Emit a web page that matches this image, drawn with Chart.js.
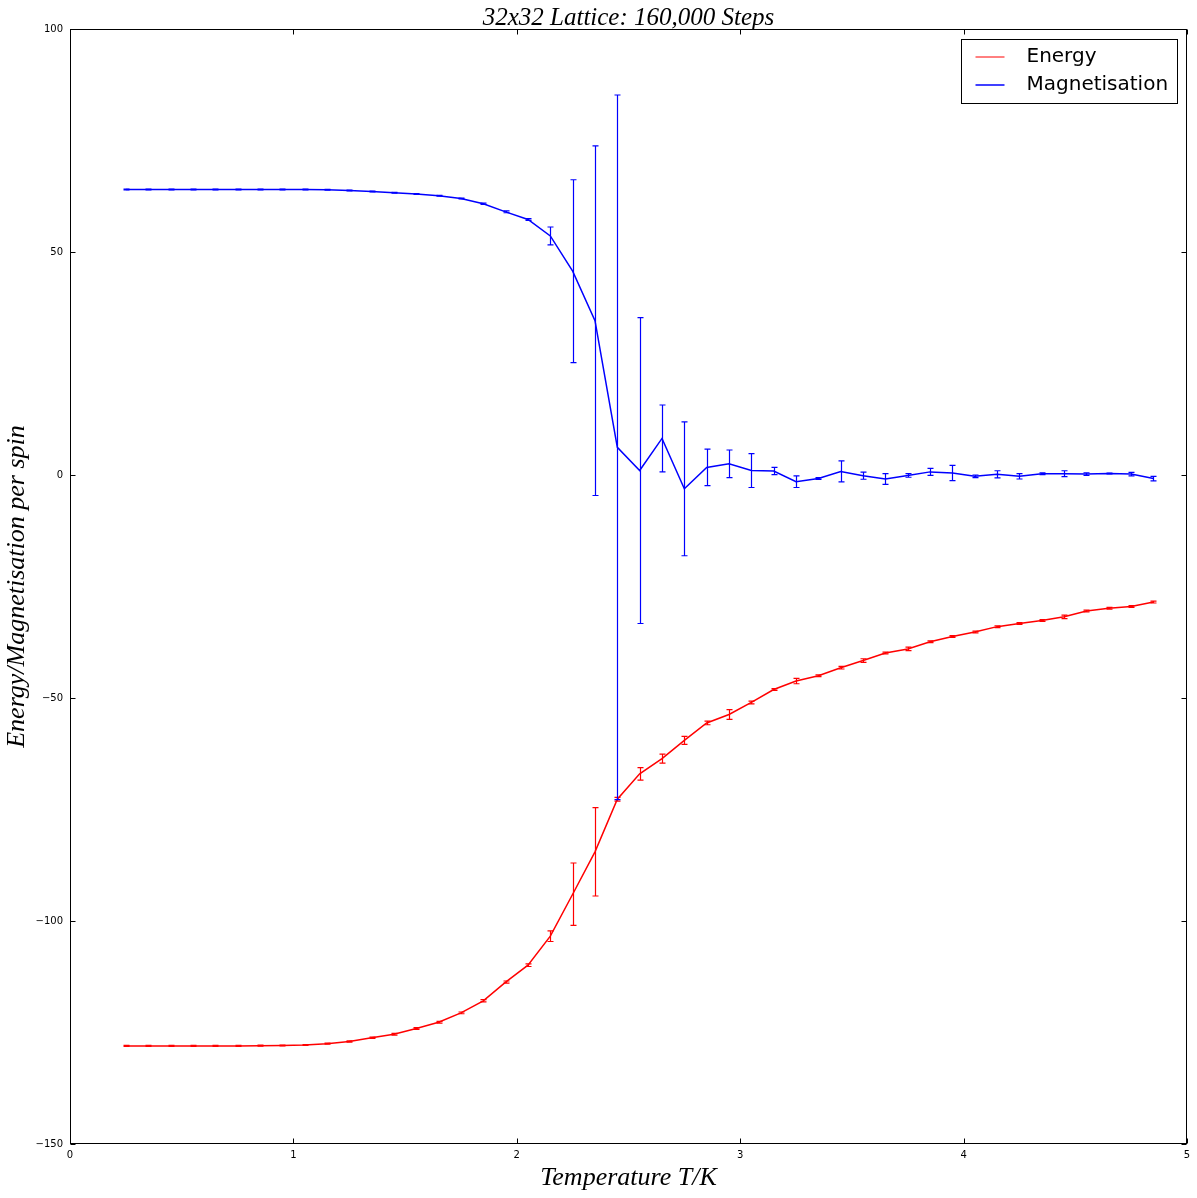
<!DOCTYPE html>
<html><head><meta charset="utf-8">
<script src="https://cdn.jsdelivr.net/npm/chart.js@4/dist/chart.umd.min.js"></script>
<style>html,body{margin:0;padding:0;background:#fff;overflow:hidden}#wrap{width:1197px;height:1198px}canvas{display:block}</style>
</head><body><div id="wrap"><canvas id="c" width="1197" height="1198"></canvas></div>
<script>
const temperatures = [0.25,0.35,0.45,0.55,0.65,0.75,0.85,0.95,1.05,1.15,1.25,1.35,1.45,1.55,1.65,1.75,1.85,1.95,2.05,2.15,2.25,2.35,2.45,2.55,2.65,2.75,2.85,2.95,3.05,3.15,3.25,3.35,3.45,3.55,3.65,3.75,3.85,3.95,4.05,4.15,4.25,4.35,4.45,4.55,4.65,4.75,4.85];
const energy = [-128.0,-128.0,-128.0,-128.0,-128.0,-128.0,-127.95,-127.9,-127.8,-127.5,-127.0,-126.2,-125.4,-124.1,-122.7,-120.6,-117.9,-113.7,-109.9,-103.4,-94.0,-84.5,-72.7,-67.0,-63.6,-59.5,-55.6,-53.7,-51.0,-48.1,-46.2,-45.0,-43.2,-41.6,-39.9,-39.0,-37.4,-36.2,-35.2,-34.0,-33.3,-32.6,-31.8,-30.5,-29.9,-29.5,-28.5];
const energyErr = [0.1,0.1,0.1,0.1,0.1,0.1,0.1,0.1,0.1,0.1,0.15,0.15,0.2,0.2,0.2,0.2,0.25,0.25,0.3,1.2,7.0,9.9,0.4,1.4,1.0,0.9,0.4,1.1,0.3,0.2,0.6,0.2,0.3,0.4,0.2,0.4,0.2,0.2,0.2,0.2,0.2,0.2,0.4,0.2,0.2,0.2,0.2];
const magnetisation = [64.0,64.0,64.0,64.0,64.0,64.0,64.0,64.0,64.0,63.95,63.8,63.55,63.3,63.0,62.6,62.0,60.8,59.0,57.3,53.6,45.7,34.6,6.2,1.0,8.2,-3.1,1.7,2.5,1.0,0.9,-1.5,-0.8,0.8,-0.15,-0.9,-0.1,0.7,0.45,-0.3,0.15,-0.3,0.3,0.3,0.2,0.35,0.2,-0.8];
const magnetisationErr = [0.1,0.1,0.1,0.1,0.1,0.1,0.1,0.1,0.1,0.1,0.1,0.1,0.1,0.1,0.1,0.1,0.15,0.2,0.2,2.0,20.5,39.2,79.0,34.3,7.5,15.0,4.1,3.1,3.8,0.8,1.3,0.2,2.35,0.8,1.2,0.4,0.8,1.7,0.3,0.8,0.6,0.2,0.65,0.3,0.1,0.4,0.5];
const seriesLabels = ['Energy','Magnetisation'];
const seriesColors = ['#ff0000','#0000ff'];
const xTickValues = [0,1,2,3,4,5];
const yTickValues = [-150,-100,-50,0,50,100];
const titleText = '32x32 Lattice: 160,000 Steps';
const xTitle = 'Temperature T/K';
const yTitle = 'Energy/Magnetisation per spin';

const serifItalic = "'Liberation Serif', 'DejaVu Serif', serif";
const tickFont = {family:"'DejaVu Sans', sans-serif", size:10};

function pts(ys){ return temperatures.map((t,i)=>({x:t,y:ys[i]})); }

const errorBarPlugin = {
  id:'errorBars',
  afterDatasetsDraw(chart){
    const ctx = chart.ctx, xs = chart.scales.x, ys = chart.scales.y, a = chart.chartArea;
    ctx.save();
    ctx.beginPath(); ctx.rect(a.left, a.top, a.right-a.left, a.bottom-a.top); ctx.clip();
    chart.data.datasets.forEach(ds=>{
      const err = ds.errorValues; if(!err) return;
      ctx.strokeStyle = ds.borderColor; ctx.lineWidth = 1.2;
      ds.data.forEach((p,i)=>{
        const px = Math.round(xs.getPixelForValue(p.x))+0.5;
        const t = ys.getPixelForValue(p.y+err[i]);
        const b = ys.getPixelForValue(p.y-err[i]);
        ctx.beginPath();
        ctx.moveTo(px,t); ctx.lineTo(px,b);
        ctx.moveTo(px-3,t); ctx.lineTo(px+3,t);
        ctx.moveTo(px-3,b); ctx.lineTo(px+3,b);
        ctx.stroke();
      });
    });
    ctx.restore();
  }
};

const framePlugin = {
  id:'frame',
  afterDraw(chart){
    const ctx = chart.ctx, a = chart.chartArea, xs = chart.scales.x, ys = chart.scales.y;
    ctx.save();
    ctx.strokeStyle = '#000'; ctx.lineWidth = 1;
    const L = Math.round(a.left)+0.5, R = Math.round(a.right)-0.5, T = Math.round(a.top)+0.5, B = Math.round(a.bottom)-0.5;
    ctx.strokeRect(L, T, R-L, B-T);
    ctx.beginPath();
    const tl = 5;
    xTickValues.forEach(v=>{
      const px = Math.round(xs.getPixelForValue(v))+0.5;
      ctx.moveTo(px,B); ctx.lineTo(px,B-tl);
      ctx.moveTo(px,T); ctx.lineTo(px,T+tl);
    });
    yTickValues.forEach(v=>{
      const py = Math.round(ys.getPixelForValue(v))+0.5;
      ctx.moveTo(L,py); ctx.lineTo(L+tl,py);
      ctx.moveTo(R,py); ctx.lineTo(R-tl,py);
    });
    ctx.stroke();
    // legend
    ctx.font = "20px 'DejaVu Sans', sans-serif";
    const ds = chart.data.datasets;
    let maxW = 0; ds.forEach(d=>{ maxW = Math.max(maxW, ctx.measureText(d.label).width); });
    const padL = 14, lineLen = 29, gap = 22, padR = 9;
    const w = Math.round(padL + lineLen + gap + maxW + padR), h = 64;
    const x0 = Math.round(a.right - 10 - w) + 0.5, y0 = Math.round(a.top + 10) + 0.5;
    ctx.fillStyle = '#fff'; ctx.fillRect(x0,y0,w,h);
    ctx.strokeStyle = '#000'; ctx.lineWidth = 1; ctx.strokeRect(x0,y0,w,h);
    ds.forEach((d,i)=>{
      const cy = y0 + 17.5 + i*28;
      ctx.strokeStyle = d.borderColor; ctx.lineWidth = i===0 ? 1 : 1.5;
      ctx.beginPath(); ctx.moveTo(x0+padL, cy); ctx.lineTo(x0+padL+lineLen, cy); ctx.stroke();
      ctx.fillStyle = '#000'; ctx.textBaseline = 'middle'; ctx.textAlign = 'left';
      ctx.fillText(d.label, x0+padL+lineLen+gap, cy);
    });
    ctx.restore();
  }
};

const minus = v => String(v).replace('-', '\u2212');

new Chart(document.getElementById('c'), {
  type:'line',
  data:{
    datasets:[
      {label:seriesLabels[0], data:pts(energy), errorValues:energyErr, borderColor:seriesColors[0], backgroundColor:seriesColors[0], borderWidth:1.5, pointRadius:0, tension:0, fill:false},
      {label:seriesLabels[1], data:pts(magnetisation), errorValues:magnetisationErr, borderColor:seriesColors[1], backgroundColor:seriesColors[1], borderWidth:1.5, pointRadius:0, tension:0, fill:false}
    ]
  },
  options:{
    responsive:false, animation:false, devicePixelRatio:1,
    layout:{padding:{top:0,right:10,left:0,bottom:0}},
    plugins:{
      legend:{display:false}, tooltip:{enabled:false},
      title:{display:true, fullSize:false, text:titleText, color:'#000', font:{family:serifItalic, size:25, style:'italic', weight:'normal', lineHeight:0.88}, padding:{top:7,bottom:0}}
    },
    scales:{
      x:{type:'linear', min:0, max:5,
        afterFit(s){ s.height = 54; },
        afterBuildTicks(s){ s.ticks = xTickValues.map(v=>({value:v})); },
        grid:{display:false, drawTicks:false}, border:{display:false},
        ticks:{color:'#000', font:tickFont, padding:5, maxRotation:0, callback:v=>minus(v)},
        title:{display:true, text:xTitle, color:'#000', font:{family:serifItalic, size:26, style:'italic', lineHeight:1.2}, padding:{top:0,bottom:4}}
      },
      y:{type:'linear', min:-150, max:100,
        afterFit(s){ s.width = 70; },
        afterBuildTicks(s){ s.ticks = yTickValues.map(v=>({value:v})); },
        grid:{display:false, drawTicks:false}, border:{display:false},
        ticks:{color:'#000', font:tickFont, padding:7, callback:v=>minus(v)},
        title:{display:true, text:yTitle, color:'#000', font:{family:serifItalic, size:26, style:'italic', lineHeight:1.2}, padding:{top:2,bottom:0}}
      }
    }
  },
  plugins:[errorBarPlugin, framePlugin]
});
</script></body></html>
